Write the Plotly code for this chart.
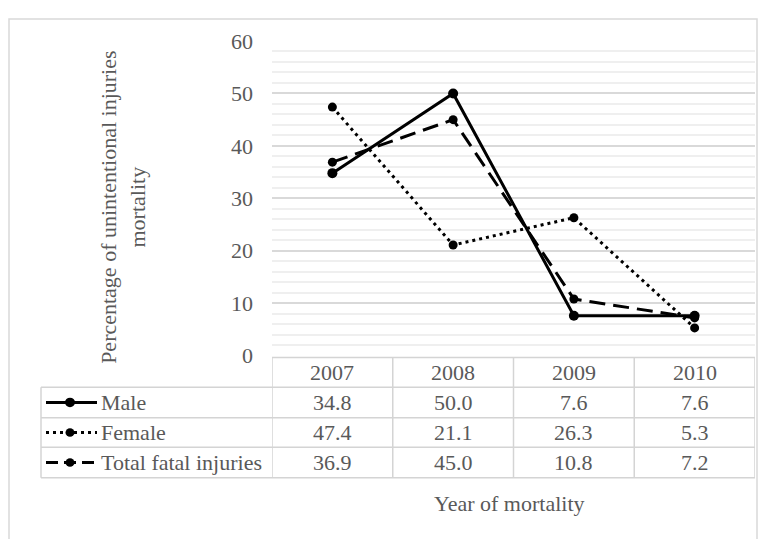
import plotly.graph_objects as go

# ---------------- data ----------------
years = ["2007", "2008", "2009", "2010"]
male = [34.8, 50.0, 7.6, 7.6]
female = [47.4, 21.1, 26.3, 5.3]
total = [36.9, 45.0, 10.8, 7.2]
series_names = ["Male", "Female", "Total fatal injuries"]
y_ticks = [0, 10, 20, 30, 40, 50, 60]
y_title = "Percentage of unintentional injuries<br>mortality"
x_title = "Year of mortality"

W, H = 766, 539
OFF = 8  # page body margin offset
FONT = "Liberation Serif, Times New Roman, serif"
TXT = "#595959"
GRID = "#d9d9d9"
MINOR = "#efefef"
BORDER = "#d4d4d4"


def px(x):
    return (x - OFF) / W


def py(y):
    return 1 - (y - OFF) / H


styles = [
    dict(dash="solid", symbol="circle", size=10, key="solid"),
    dict(dash="3px,4px", symbol="circle", size=9, key="3px,4px"),
    dict(dash="16px,8px", symbol="circle", size=9, key="12px,6px"),
]
values = [male, female, total]

fig = go.Figure()
for name, vals, st in zip(series_names, values, styles):
    fig.add_trace(go.Scatter(
        x=years, y=vals, name=name, mode="lines+markers",
        line=dict(color="black", width=3, dash=st["dash"]),
        marker=dict(color="black", size=st["size"], symbol=st["symbol"]),
        showlegend=False,
    ))

plot_left, plot_right = 272, 755
plot_top, plot_bottom = 30, 360

shapes = []
annotations = []

# outer chart border
shapes.append(dict(type="rect", xref="paper", yref="paper",
                   x0=px(9), x1=px(757), y0=py(7), y1=py(570),
                   line=dict(color=GRID, width=1.5), fillcolor="rgba(0,0,0,0)", layer="below"))

# data table geometry
row_y = [362, 393, 425, 456, 488]
legend_left = 41
bounds = [i - 0.5 for i in range(len(years) + 1)]
tl = dict(color=BORDER, width=1.5)

shapes.append(dict(type="line", xref="x", yref="paper", x0=bounds[0], x1=bounds[-1],
                   y0=py(row_y[0]), y1=py(row_y[0]), line=tl))
for ry in row_y[1:]:
    shapes.append(dict(type="line", xref="paper", yref="paper", x0=px(legend_left), x1=px(plot_right),
                       y0=py(ry), y1=py(ry), line=tl))
for b in bounds:
    shapes.append(dict(type="line", xref="x", yref="paper", x0=b, x1=b,
                       y0=py(row_y[0]), y1=py(row_y[-1]), line=tl))
shapes.append(dict(type="line", xref="paper", yref="paper", x0=px(legend_left), x1=px(legend_left),
                   y0=py(row_y[1]), y1=py(row_y[-1]), line=tl))

tf = dict(family=FONT, size=22, color=TXT)
for i, yr in enumerate(years):
    annotations.append(dict(x=i, xref="x", y=py((row_y[0] + row_y[1]) / 2), yref="paper",
                            text=yr, showarrow=False, font=tf, xanchor="center", yanchor="middle"))
for r, (name, vals, st) in enumerate(zip(series_names, values, styles)):
    yc = (row_y[r + 1] + row_y[r + 2]) / 2
    for i, v in enumerate(vals):
        annotations.append(dict(x=i, xref="x", y=py(yc), yref="paper",
                                text=f"{v:.1f}", showarrow=False, font=tf,
                                xanchor="center", yanchor="middle"))
    annotations.append(dict(x=px(99), xref="paper", y=py(yc), yref="paper", text=name,
                            showarrow=False, font=tf, xanchor="left", yanchor="middle"))
    shapes.append(dict(type="line", xref="paper", yref="paper", x0=px(46), x1=px(97),
                       y0=py(yc), y1=py(yc), line=dict(color="black", width=3, dash=st["key"])))
    rr = st["size"] / 2
    shapes.append(dict(type="circle", xref="paper", yref="paper",
                       x0=px(70 - rr), x1=px(70 + rr), y0=py(yc - rr), y1=py(yc + rr),
                       fillcolor="black", line=dict(color="black", width=0)))

annotations.append(dict(x=px(123), xref="paper", y=py(205), yref="paper", text=y_title,
                        textangle=-90, showarrow=False, font=dict(family=FONT, size=22, color=TXT),
                        xanchor="center", yanchor="middle", align="center"))
annotations.append(dict(x=px(509), xref="paper", y=py(515), yref="paper", text=x_title,
                        showarrow=False, font=dict(family=FONT, size=22, color=TXT),
                        xanchor="center", yanchor="middle"))

fig.update_layout(
    width=W, height=H,
    margin=dict(l=0, r=0, t=0, b=0),
    paper_bgcolor="white", plot_bgcolor="white",
    xaxis=dict(domain=[px(plot_left), px(plot_right)], type="category", range=[-0.5, 3.5],
               showticklabels=False, showgrid=False, zeroline=False, showline=False, ticks=""),
    yaxis=dict(domain=[py(plot_bottom), py(plot_top)], range=[0, 60], tickvals=y_ticks,
               showgrid=True, gridcolor=GRID, gridwidth=1.5, zeroline=False, showline=False,
               tickfont=dict(family=FONT, size=22, color=TXT), ticks="", ticklabelstandoff=18,
               minor=dict(dtick=2, showgrid=True, gridcolor=MINOR, gridwidth=1.5)),
    shapes=shapes, annotations=annotations,
)

fig.write_html("out.html")
